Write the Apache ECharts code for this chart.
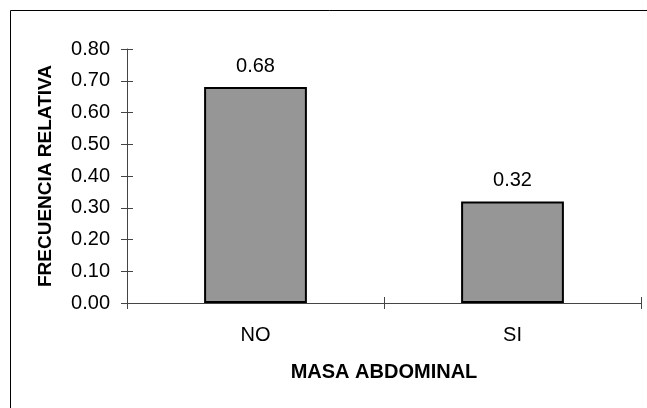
<!DOCTYPE html>
<html>
<head>
<meta charset="utf-8">
<script src="https://cdn.jsdelivr.net/npm/echarts@6/dist/echarts.min.js"></script>
<style>
html,body{margin:0;padding:0;background:#fff;}
#chart{width:647px;height:408px;}
</style>
</head>
<body>
<div id="chart"></div>
<script>
var categories = ['NO', 'SI'];
var values = [0.68, 0.32];
var yTicks = [0, 0.1, 0.2, 0.3, 0.4, 0.5, 0.6, 0.7, 0.8];
var xTitle = 'MASA ABDOMINAL';
var yTitle = 'FRECUENCIA RELATIVA';

var font = 'Liberation Sans, Arial, sans-serif';
var axisColor = '#444';
var chart = echarts.init(document.getElementById('chart'));
chart.setOption({
  animation: false,
  backgroundColor: '#fff',
  graphic: [{
    type: 'rect',
    shape: {x: 10.5, y: 10.5, width: 700, height: 500},
    style: {fill: 'none', stroke: '#000', lineWidth: 1},
    silent: true
  }],
  grid: {left: 127, top: 49, right: 6, bottom: 105, containLabel: false},
  xAxis: [{
    type: 'category',
    data: categories,
    axisLine: {lineStyle: {color: axisColor, width: 1}},
    axisTick: {show: true, length: 6, inside: false, lineStyle: {color: axisColor}},
    axisLabel: {color: '#000', fontSize: 20, fontFamily: font, margin: 22},
    name: xTitle,
    nameLocation: 'middle',
    nameGap: 59,
    nameTextStyle: {color: '#000', fontSize: 20, fontWeight: 'bold', fontFamily: font}
  }, {
    type: 'category',
    data: categories,
    position: 'bottom',
    axisLine: {show: false},
    axisTick: {show: true, length: 6, inside: true, lineStyle: {color: axisColor}},
    axisLabel: {show: false}
  }],
  yAxis: [{
    type: 'value',
    min: 0, max: 0.8, interval: 0.1,
    axisLine: {show: true, lineStyle: {color: axisColor, width: 1}},
    axisTick: {show: true, length: 6, inside: false, lineStyle: {color: axisColor}},
    splitLine: {show: false},
    axisLabel: {color: '#000', fontSize: 20, fontFamily: font, margin: 17,
      formatter: function (v) { return v.toFixed(2); }},
    name: yTitle,
    nameLocation: 'middle',
    nameGap: 72,
    nameRotate: 90,
    nameTextStyle: {color: '#000', fontSize: 19, fontWeight: 'bold', fontFamily: font}
  }, {
    type: 'value',
    position: 'left',
    min: 0, max: 0.8, interval: 0.1,
    axisLine: {show: false},
    axisTick: {show: true, length: 6, inside: true, lineStyle: {color: axisColor}},
    splitLine: {show: false},
    axisLabel: {show: false}
  }],
  series: [{
    type: 'bar',
    xAxisIndex: 0,
    yAxisIndex: 0,
    data: values,
    barCategoryGap: '60%',
    itemStyle: {color: '#969696', borderColor: '#000', borderWidth: 2},
    label: {show: true, position: 'top', distance: 11, color: '#000', fontSize: 20, fontFamily: font,
      formatter: function (p) { return p.value.toFixed(2); }}
  }]
});
</script>
</body>
</html>
